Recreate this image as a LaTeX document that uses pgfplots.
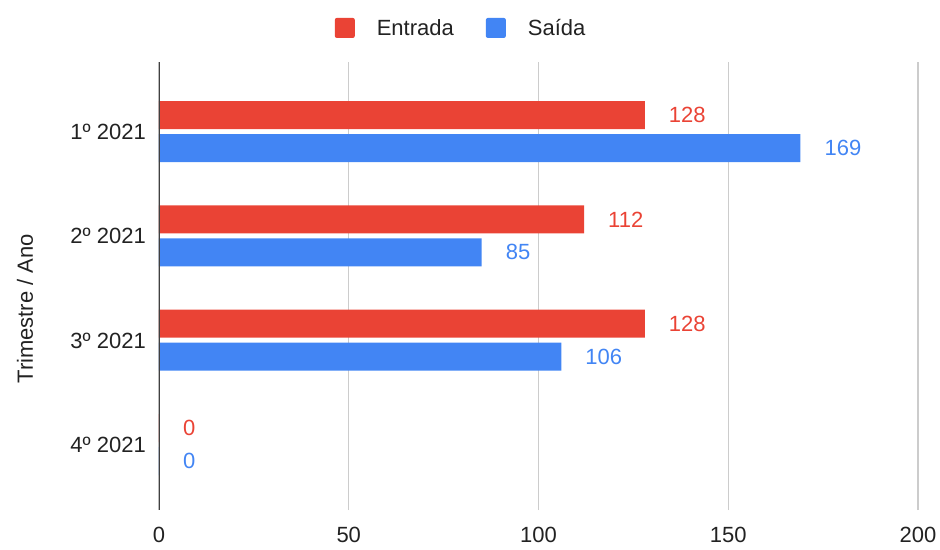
\documentclass[border=0pt]{standalone}
\usepackage{pgfplots}
\pgfplotsset{compat=1.18}
\usepackage{fontspec}
\setmainfont{Liberation Sans}
\definecolor{gred}{HTML}{EA4335}
\definecolor{gblue}{HTML}{4285F4}
\definecolor{txt}{HTML}{222222}

\begin{document}
\begin{tikzpicture}[font=\fontsize{22bp}{26bp}\selectfont]
\useasboundingbox (-159bp,-40bp) rectangle (781bp,510bp);
\begin{axis}[
    at={(0,0)}, anchor=south west,
    scale only axis, width=759bp, height=448bp,
    xbar, bar width=28bp,
    xmin=0, xmax=200, ymin=-0.623, ymax=3.671,
    xtick={0,50,...,200},
    ytick={0,1,2,3},
    yticklabels={4º 2021, 3º 2021, 2º 2021, 1º 2021},
    /pgf/number format/assume math mode=true,
    axis line style={draw=none},
    major tick length=0pt,
    xmajorgrids,
    grid style={black!20, line width=1.2bp},
    ticklabel style={text=txt},
    xticklabel style={inner sep=0pt, yshift=-17bp},
    yticklabel style={inner sep=0pt, xshift=-13bp},
    ylabel={Trimestre / Ano},
    ylabel style={at={(axis description cs:-0.1765,0.449)}, anchor=center, text=txt},
    legend style={at={(axis description cs:0.398,1.076)}, anchor=center,
        draw=none, legend columns=2, text=txt,
        /tikz/every odd column/.append style={column sep=20bp},
        /tikz/every even column/.append style={column sep=30bp}},
    legend image code/.code={\fill[#1, draw=none, rounded corners=2bp] (0bp,-10bp) rectangle (20bp,10bp);},
    nodes near coords,
    every node near coord/.append style={anchor=west, inner sep=0pt, xshift=24bp},
]
\addplot[fill=gred, draw=none, bar shift=17bp,
    every node near coord/.append style={text=gred}]
    coordinates {(128,3) (112,2) (128,1) (0,0)};
\addlegendentry{Entrada}
\addplot[fill=gblue, draw=none, bar shift=-16bp,
    every node near coord/.append style={text=gblue}]
    coordinates {(169,3) (85,2) (106,1) (0,0)};
\addlegendentry{Saída}
\draw[black!75, line width=1.5bp] (rel axis cs:0,0) -- (rel axis cs:0,1);
\end{axis}
\end{tikzpicture}
\end{document}
